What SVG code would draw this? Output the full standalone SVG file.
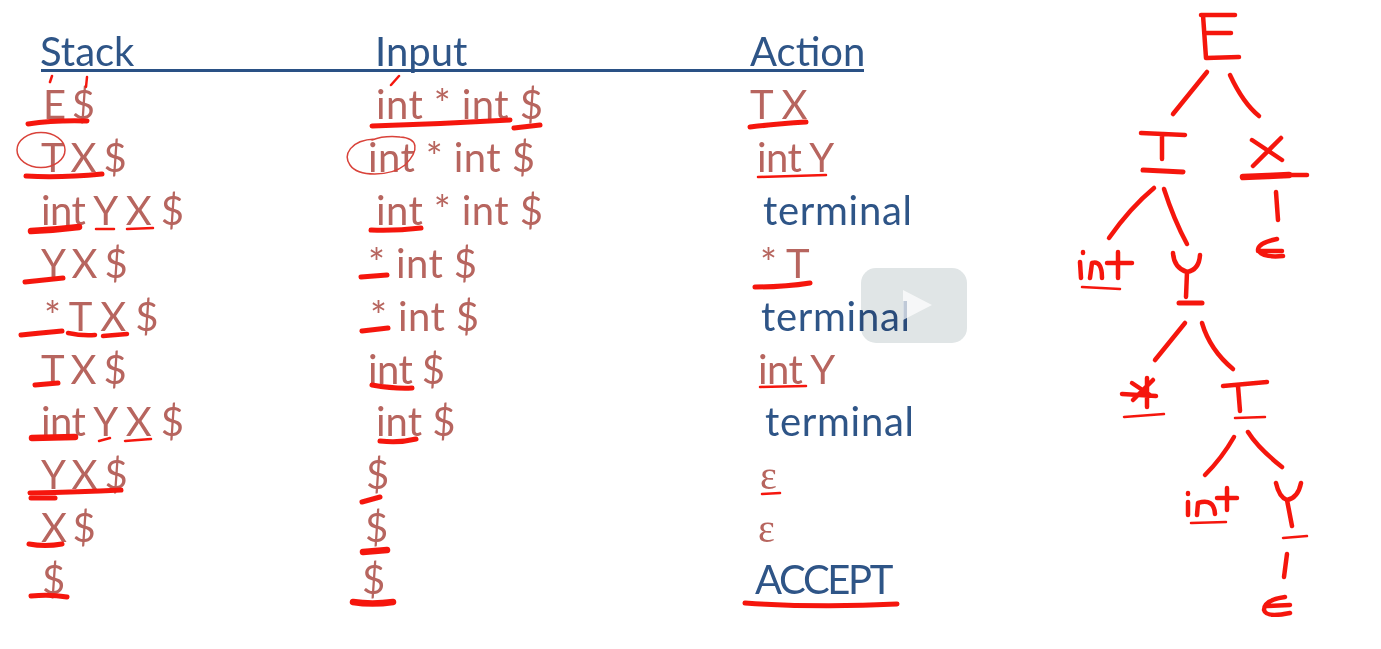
<svg xmlns="http://www.w3.org/2000/svg" width="1381" height="649" viewBox="0 0 1381 649">
<style>
text{font-family:"Lato","Open Sans","Liberation Sans",sans-serif;font-size:40px;white-space:pre}
.b{fill:#2f5487}
.w{letter-spacing:.7px}
.r{fill:#b7655e}
.e{font-family:"Liberation Serif","DejaVu Serif",serif}
.n1{letter-spacing:-1.6px}
.n2{letter-spacing:-2.3px}
.n3{letter-spacing:-.6px}
.p1{letter-spacing:.4px}
path,line{fill:none;stroke:#f5190f;stroke-linecap:round;stroke-linejoin:round;stroke-width:4.5}
.t{stroke-width:2.5}
.m{stroke-width:5}
.h{stroke-width:6.500}
</style>
<defs><filter id="soft" x="-5%" y="-5%" width="110%" height="110%"><feGaussianBlur stdDeviation="0.45"/></filter></defs>
<rect width="1381" height="649" fill="#fff"/>
<g filter="url(#soft)">
<g id="table-text">
<text class="b" x="40" y="66">Stack</text><text class="b" x="375" y="66">Input</text><text class="b" x="750" y="66">Action</text>
<line x1="41" y1="70.500" x2="864" y2="70.500" style="stroke:#2a5185;stroke-width:3;stroke-linecap:butt"/>
<text class="r n2" x="43" y="119">E $</text><text class="r p1" x="376" y="119">int * int $</text><text class="r n3" x="750" y="119">T X</text>
<text class="r n1" x="41" y="172">T X $</text><text class="r p1" x="368" y="172">int * int $</text><text class="r n3" x="757" y="172">int Y</text>
<text class="r n3" x="41" y="225">int Y X $</text><text class="r p1" x="376" y="225">int * int $</text><text class="b w" x="763" y="225">terminal</text>
<text class="r n1" x="41" y="278">Y X $</text><text class="r p1" x="368" y="278">* int $</text><text class="r" x="760" y="278">* T</text>
<text class="r n3" x="44" y="331">* T X $</text><text class="r p1" x="370" y="331">* int $</text><text class="b w" x="761" y="331">terminal</text>
<text class="r n1" x="41" y="384">T X $</text><text class="r n3" x="368" y="384">int $</text><text class="r n3" x="758" y="384">int Y</text>
<text class="r n3" x="41" y="436">int Y X $</text><text class="r" x="376" y="436">int $</text><text class="b w" x="765" y="436">terminal</text>
<text class="r n1" x="41" y="489">Y X $</text><text class="r" x="366" y="489">$</text><text class="r e" x="760" y="489">ε</text>
<text class="r n2" x="41" y="542">X $</text><text class="r" x="365" y="542">$</text><text class="r e" x="758" y="542">ε</text>
<text class="r" x="42" y="594">$</text><text class="r" x="362" y="594">$</text><text class="b n2" x="755" y="594">ACCEPT</text>
</g>
<g id="table-ink">
<path d="M52 76L50 82M87 77L86 87M399 76L391 85" class="t"/>
<path d="M28 124Q55 120 87 121" class="m"/><path d="M372 126Q440 124 510 120" class="m"/><path d="M514 128L540 125" class="m"/><path d="M750 127Q775 124 806 122" class="m"/>
<ellipse cx="41" cy="150" rx="24" ry="17.500" style="fill:none;stroke:#d9433a;stroke-width:1.500"/>
<path d="M375 139C350 140 343 155 350 165C358 177 390 177 405 165C420 150 418 138 400 137C390 136 380 137 372 140" style="stroke:#d9433a;stroke-width:1.500"/>
<path d="M26 176Q60 178 102 174" class="m"/><path d="M758 177L826 175" class="t"/>
<path d="M31 231Q55 230 79 227" class="h"/><path d="M96 229L114 229M127 229L153 228" class="t"/><path d="M371 230Q395 231 421 228" class="m"/>
<path d="M25 282L63 278" class="m"/><path d="M361 277L387 275" class="m"/><path d="M755 287Q785 287 810 283" class="m"/>
<path d="M21 335Q40 333 62 331" class="m"/><path d="M68 333Q82 336 95 335M103 336L127 334"/><path d="M362 331L388 328" class="m"/>
<path d="M35 385L58 383" class="m"/><path d="M372 385Q395 389 412 388" class="m"/><path d="M760 387L806 386" class="t"/>
<path d="M32 438L75 437" class="h"/><path d="M99 441L110 438M125 441L151 439" class="t"/><path d="M380 441Q400 443 416 439" class="m"/>
<path d="M30 493Q80 492 121 490" class="m"/><path d="M31 498L55 498" class="m"/><path d="M362 502L380 497" class="m"/><path d="M762 494L780 493" class="t"/>
<path d="M29 544Q45 547 62 544" class="m"/><path d="M363 552L387 550" class="h"/>
<path d="M31 596Q50 594 67 597" class="m"/><path d="M353 602Q372 605 393 602" class="h"/><path d="M745 603Q820 608 897 604" class="m"/>
</g>
<g id="connectors">
<path d="M1207 72L1173 114"/><path d="M1230 75Q1243 103 1259 116"/>
<path d="M1154 188Q1130 208 1109 238"/><path d="M1164 189Q1174 220 1187 244"/>
<path d="M1276 192L1278 220"/>
<path d="M1185 323L1155 360"/><path d="M1202 323Q1210 350 1233 369"/>
<path d="M1234 437Q1222 458 1205 475"/><path d="M1248 432Q1258 448 1282 467"/>
<path d="M1287 554L1284 577"/>
</g>
<g id="node-E"><path d="M1201 15L1235 15M1203 15L1206 58L1239 57M1206 33L1231 33"/></g>
<g id="node-T1"><path d="M1141 133L1185 135M1162 135L1162 159"/><path d="M1143 170L1183 172" class="m"/></g>
<g id="node-X"><path d="M1252 140L1282 160M1281 138L1253 166"/><path d="M1243 177L1289 175" class="h"/><path d="M1289 175L1307 175"/></g>
<g id="node-int1"><path d="M1083 252L1083 253M1080 262L1081 278M1090 278L1092 263Q1102 260 1102 278M1118 252L1118 278M1107 263L1132 263"/><path d="M1082 287L1120 289" class="t"/></g>
<g id="node-Y1"><path d="M1173 253Q1174 268 1187 272Q1199 270 1200 255M1187 272L1186 297"/><path d="M1179 303L1202 303" class="m"/></g>
<g id="node-eps1"><path d="M1277 239Q1258 243 1258 250Q1262 258 1283 256M1258 251L1282 251"/></g>
<g id="node-star"><path d="M1122 394L1156 396M1147 378L1147 407M1132 383L1150 395M1153 380L1133 400"/><path d="M1124 417L1164 414" class="t"/></g>
<g id="node-T2"><path d="M1223 386L1267 382M1238 386L1240 411"/><path d="M1235 418L1265 417" class="t"/></g>
<g id="node-int2"><path d="M1188 493L1188 494M1188 502L1188 515M1197 515L1198 503Q1214 498 1215 514M1227 488L1227 510M1217 498L1237 498"/><path d="M1191 523L1226 522" class="t"/></g>
<g id="node-Y2"><path d="M1276 483Q1279 497 1287 500Q1298 498 1301 483M1287 500L1292 526"/><path d="M1283 538L1307 536" class="t"/></g>
<g id="node-eps2"><path d="M1285 597Q1264 600 1264 610Q1266 618 1290 613M1267 606L1290 605"/></g>
<g id="play-button">
<rect x="861" y="268" width="106" height="75" rx="15" fill="#e0e5e6" style="mix-blend-mode:multiply"/>
<polygon points="903,290 932,305 903,320" fill="#fff" fill-opacity="0.7"/>
</g>
</g>
</svg>
